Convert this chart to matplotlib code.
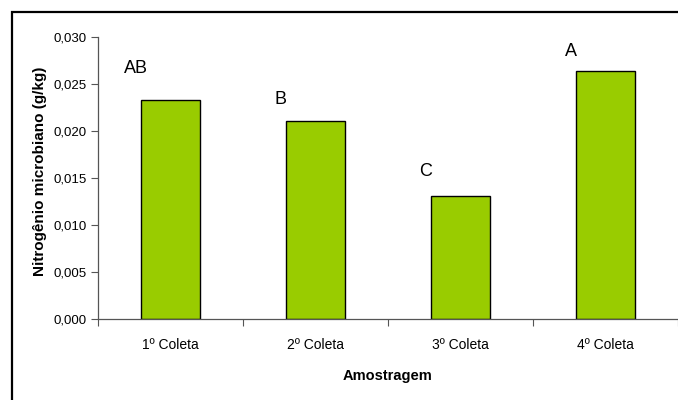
import matplotlib
matplotlib.use('Agg')
import matplotlib.pyplot as plt
from matplotlib.patches import Rectangle

# ── data ─────────────────────────────────────────────────────────────────────
categories = ['1º Coleta', '2º Coleta', '3º Coleta', '4º Coleta']
nitrogen = [0.0233, 0.0211, 0.0131, 0.0264]
letters = ['AB', 'B', 'C', 'A']
yticks = [0.000, 0.005, 0.010, 0.015, 0.020, 0.025, 0.030]

plt.rcParams['font.family'] = ['Liberation Sans', 'DejaVu Sans']

W, H = 678, 400
fig = plt.figure(figsize=(W / 100, H / 100), dpi=100)

# outer frame (right/bottom edges fall outside the image)
fig.patches.append(Rectangle((11.5 / W, -0.1), 1.2, 1 - 11.5 / H + 0.1,
                             transform=fig.transFigure, fill=False,
                             edgecolor='black', linewidth=1.6))

ax = fig.add_axes([98 / W, 1 - 319 / H, 1 - 98 / W, (319 - 37) / H])

x = range(len(categories))
ax.bar(x, nitrogen, width=0.41, color='#99CC00',
       edgecolor='black', linewidth=1.0)

# letters above bars
extra = [0.0034, 0.0023, 0.0026, 0.0021]
for i, (v, lab) in enumerate(zip(nitrogen, letters)):
    ax.text(i - 0.24, v + extra[i], lab, ha='center', va='center',
            fontsize=13)

ax.set_xlim(-0.5, len(categories) - 0.5)
ax.set_ylim(0, 0.030)
ax.set_yticks(yticks)
ax.set_yticklabels([f'{t:.3f}'.replace('.', ',') for t in yticks],
                   fontsize=9.5)

ax.set_xticks([i - 0.5 for i in range(len(categories) + 1)])
ax.set_xticklabels([])
ax.set_xticks(list(x), minor=True)
ax.set_xticklabels(categories, minor=True, fontsize=10)
ax.tick_params(axis='x', which='minor', length=0, pad=14)
ax.tick_params(axis='x', which='major', length=5, color='#555555')
ax.tick_params(axis='y', length=5, color='#555555', pad=3)

for s in ['top', 'right']:
    ax.spines[s].set_visible(False)
for s in ['left', 'bottom']:
    ax.spines[s].set_color('#555555')
    ax.spines[s].set_linewidth(0.9)

ax.set_xlabel('Amostragem', fontsize=10.5, fontweight='bold')
ax.set_ylabel('Nitrogênio microbiano (g/kg)', fontsize=11,
              fontweight='bold')
ax.yaxis.set_label_coords(-(98 - 47) / (W - 98), (319 - 171) / (319 - 37))
ax.xaxis.set_label_coords(0.5, -(369 - 319) / (319 - 37))

fig.savefig('out.png', dpi=100)
